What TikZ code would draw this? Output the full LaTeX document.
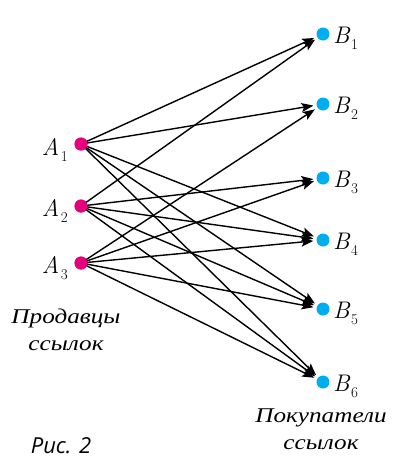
\documentclass[tikz,border=0pt]{standalone}
\usepackage{fontspec}
\usetikzlibrary{arrows.meta}
\newfontfamily\cyrserif[FakeStretch=1.2]{Liberation Serif}
\newfontfamily\cyrsans{Open Sans}
\definecolor{amag}{HTML}{E5007D}
\definecolor{bcyan}{HTML}{00AEEF}
\newcommand\vlab[2]{{\itshape #1}\kern1.5pt\raisebox{-6pt}{\fontsize{15}{15}\selectfont #2}}
\begin{document}
\begin{tikzpicture}[x=1pt,y=-1pt,
  adot/.style={circle,fill=amag,inner sep=0pt,minimum size=13pt},
  bdot/.style={circle,fill=bcyan,inner sep=0pt,minimum size=13pt},
  lbl/.style={inner sep=0pt,font=\fontsize{24}{26}\selectfont},
  captext/.style={inner sep=0pt,align=center,font=\fontsize{21}{27}\selectfont\cyrserif\itshape},
  link/.style={line width=1.4pt,-{Stealth[length=12pt,width=9pt,inset=2.5pt]},shorten >=3pt}
]
\useasboundingbox (0,0) rectangle (393,459);
\node[adot] (A1) at (81,144) {};
\node[adot] (A2) at (81,206) {};
\node[adot] (A3) at (81,263) {};
\node[bdot] (B1) at (323,34) {};
\node[bdot] (B2) at (323,104) {};
\node[bdot] (B3) at (323,178) {};
\node[bdot] (B4) at (323,240) {};
\node[bdot] (B5) at (323,309) {};
\node[bdot] (B6) at (323,382) {};
\node[lbl,anchor=base east] (la1) at (68,155) {\vlab{A}{1}};
\node[lbl,anchor=base east] (la2) at (68,216) {\vlab{A}{2}};
\node[lbl,anchor=base east] (la3) at (68,273) {\vlab{A}{3}};
\foreach \i/\y in {1/34,2/104,3/178,4/240,5/309,6/382}{
  \node[lbl,anchor=base west] (lb\i) at (333,\y+9) {\vlab{B}{\i}};
}
\foreach \b in {1,2,4,5,6} \draw[link] (A1.center) -- (B\b);
\foreach \b in {1,3,4,5,6} \draw[link] (A2.center) -- (B\b);
\foreach \b in {2,3,4,5,6} \draw[link] (A3.center) -- (B\b);
\node[adot] at (A1) {};
\node[adot] at (A2) {};
\node[adot] at (A3) {};
\node[captext,anchor=base] (sell) at (66,350) {Продавцы\\ссылок};
\node[captext,anchor=base] (buy) at (321,449) {Покупатели\\ссылок};
\node[inner sep=0pt,anchor=base,font=\fontsize{22}{24}\selectfont\cyrsans\itshape] (fig) at (61,453) {Рис. 2};
\end{tikzpicture}
\end{document}
